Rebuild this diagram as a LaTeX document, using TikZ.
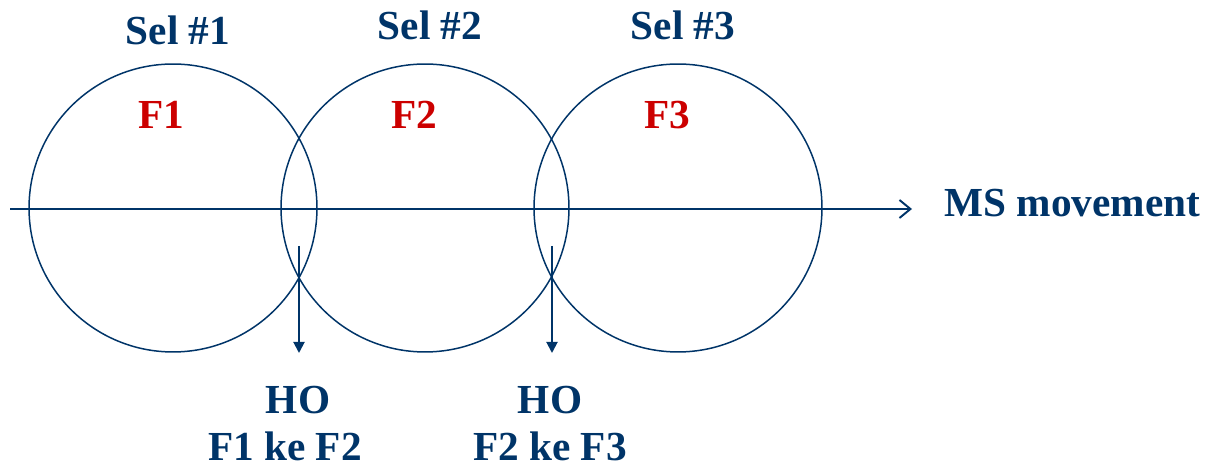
\documentclass[tikz,border=0pt]{standalone}
\usepackage{fontspec}
\setmainfont{Liberation Serif}
\usetikzlibrary{arrows.meta, positioning}
\definecolor{cellblue}{RGB}{0,52,104}
\definecolor{freqred}{RGB}{204,0,0}

\begin{document}
\begin{tikzpicture}[x=0.02cm, y=-0.02cm,
		cell/.style={draw=cellblue, line width=0.85pt, circle, inner sep=0pt, minimum size=5.76cm},
		lbl/.style={text=cellblue, font=\fontsize{23.5}{28}\selectfont\bfseries, inner sep=0pt, anchor=base},
		freq/.style={lbl, text=freqred},
		axis/.style={-{Straight Barb[length=2.2mm, width=3.6mm]}, draw=cellblue, line width=1.1pt},
		hoarrow/.style={-{Triangle[length=2.2mm, width=2.2mm]}, draw=cellblue, line width=1.1pt}
	]
		\useasboundingbox (0,0) rectangle (1214,465);
		\foreach \i/\x in {1/173,2/425,3/678}
			\node[cell] (cell\i) at (\x,208) {};
		\node[lbl] (sel1) at (178,45) {Sel \#1};
		\node[lbl] (sel2) at (430,40) {Sel \#2};
		\node[lbl] (sel3) at (683,40) {Sel \#3};
		\node[freq] (f1) at (161,129) {F1};
		\node[freq] (f2) at (414,129) {F2};
		\node[freq] (f3) at (667,129) {F3};
		% arah gerak MS
		\coordinate (axstart) at (10,209);
		\coordinate (axend) at (912,209);
		\draw[axis] (axstart) -- (axend);
		\node[lbl, anchor=base west] (ms) at (944,217) {MS movement};
		% titik handover
		\coordinate (ho1s) at (299,246);
		\coordinate (ho1e) at (299,353);
		\coordinate (ho2s) at (552,246);
		\coordinate (ho2e) at (552,353);
		\draw[hoarrow] (ho1s) -- (ho1e);
		\draw[hoarrow] (ho2s) -- (ho2e);
		\node[lbl] (ho1) at (298,414) {HO};
		\node[lbl, text depth=0pt] (ho1txt) at (285,461) {F1 ke F2};
		\node[lbl] (ho2) at (550,414) {HO};
		\node[lbl, text depth=0pt] (ho2txt) at (550,461) {F2 ke F3};
\end{tikzpicture}
\end{document}
